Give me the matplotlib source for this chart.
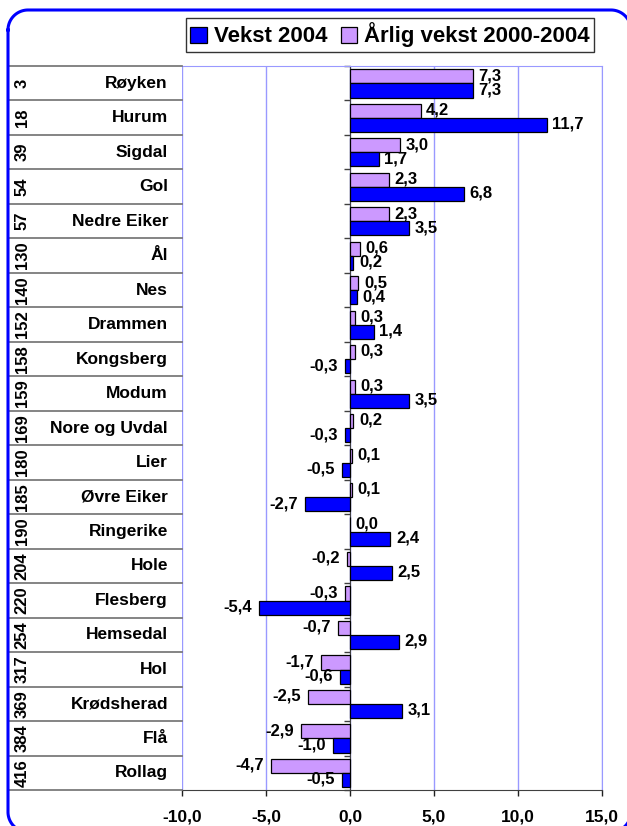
import matplotlib
matplotlib.use("Agg")
import numpy as np
import matplotlib.pyplot as plt
from matplotlib.patches import Patch
from matplotlib.lines import Line2D
from matplotlib.transforms import IdentityTransform, blended_transform_factory

plt.rcParams['font.family'] = ['Liberation Sans', 'DejaVu Sans']
plt.rcParams['font.weight'] = 'bold'
plt.rcParams['path.simplify'] = False

# Kommuner, rangering og vekst (prosent)
rang = [3, 18, 39, 54, 57, 130, 140, 152, 158, 159, 169, 180, 185, 190, 204,
        220, 254, 317, 369, 384, 416]
kommuner = ["Røyken", "Hurum", "Sigdal", "Gol", "Nedre Eiker", "Ål", "Nes",
            "Drammen", "Kongsberg", "Modum", "Nore og Uvdal", "Lier",
            "Øvre Eiker", "Ringerike", "Hole", "Flesberg", "Hemsedal", "Hol",
            "Krødsherad", "Flå", "Rollag"]
vekst_2004 = [7.3, 11.7, 1.7, 6.8, 3.5, 0.2, 0.4, 1.4, -0.3, 3.5, -0.3, -0.5,
              -2.7, 2.4, 2.5, -5.4, 2.9, -0.6, 3.1, -1.0, -0.5]
arlig_vekst = [7.3, 4.2, 3.0, 2.3, 2.3, 0.6, 0.5, 0.3, 0.3, 0.3, 0.2, 0.1,
               0.1, 0.0, -0.2, -0.3, -0.7, -1.7, -2.5, -2.9, -4.7]
xticks = [-10, -5, 0, 5, 10, 15]

BLA = "#0000FF"
LILLA = "#CC99FF"
GRID = "#9999FF"

W, H = 627, 826
fig = plt.figure(figsize=(W / 100, H / 100), dpi=100)
ax = fig.add_axes([182 / W, (H - 790) / H, (602 - 182) / W, (790 - 66) / H])

n = len(kommuner)
ypos = list(range(n))
bh = 0.41
ax.barh([y - 0.2 for y in ypos], arlig_vekst, height=bh, color=LILLA,
        edgecolor="black", linewidth=0.9, zorder=3)
ax.barh([y + 0.21 for y in ypos], vekst_2004, height=bh, color=BLA,
        edgecolor="black", linewidth=0.9, zorder=3)

def fmt(v):
    return ("%.1f" % v).replace(".", ",")

for y, a, v in zip(ypos, arlig_vekst, vekst_2004):
    for val, yy in ((a, y - 0.22), (v, y + 0.19)):
        neg = val < 0
        ax.annotate(fmt(val), (val, yy), xytext=(-5 if neg else 4, 0),
                    textcoords="offset points", ha="right" if neg else "left",
                    va="center", fontsize=12, fontweight="bold", zorder=4)

ax.set_xlim(-10, 15)
ax.set_ylim(n - 0.5, -0.5)
ax.set_xticks(xticks)
ax.set_xticklabels([fmt(t) for t in xticks], fontsize=12.5, fontweight="bold")
ax.tick_params(axis="x", length=4, width=1, color="#202020", pad=10)
ax.grid(axis="x", color=GRID, linewidth=1)
ax.set_axisbelow(True)

ax.spines["left"].set_position(("data", 0))
ax.spines["left"].set_color("#404040")
ax.spines["left"].set_zorder(2.5)
ax.set_yticks([k - 0.5 for k in range(n + 1)])
ax.set_yticklabels([])
ax.tick_params(axis="y", length=4, width=1, color="#404040")
ax.spines["bottom"].set_color("#404040")
ax.spines["top"].set_color(GRID)
ax.spines["right"].set_color(GRID)

# tabell til venstre
tr = blended_transform_factory(fig.transFigure, ax.transData)
for k in range(n + 1):
    fig.add_artist(Line2D([8 / W, 182 / W], [k - 0.5, k - 0.5], transform=tr,
                          color="#707070", linewidth=1.2))
for y, r, navn in zip(ypos, rang, kommuner):
    fig.text(22 / W, y, str(r), transform=tr, rotation=90, ha="center",
             va="center", fontsize=12, fontweight="bold")
    fig.text(168 / W, y, navn, transform=tr, ha="right", va="center",
             fontsize=12.5, fontweight="bold")

handles = [Patch(facecolor=BLA, edgecolor="black", linewidth=0.9),
           Patch(facecolor=LILLA, edgecolor="black", linewidth=0.9)]
leg = fig.legend(handles, ["Vekst 2004", "Årlig vekst 2000-2004"],
                 loc="center", bbox_to_anchor=((185 + 595) / 2 / W, 1 - 35 / H),
                 ncol=2, fontsize=16, frameon=True, fancybox=False,
                 handlelength=0.75, handleheight=0.75, handletextpad=0.3,
                 columnspacing=0.6, borderpad=0.22, borderaxespad=0)
leg.get_frame().set_edgecolor("black")
leg.get_frame().set_linewidth(1)
for t in leg.get_texts():
    t.set_fontweight("bold")

# blå avrundet ramme, tegnet i piksler (y fra toppen), delvis utenfor bildet
def bue(cx, cy, r, a0, a1):
    t = np.radians(np.linspace(a0, a1, 30))
    return cx + r * np.cos(t), cy - r * np.sin(t)

L, T, R, B, rad = 8, 10, 631, 832, 20
segs = [bue(L + rad, T + rad, rad, 180, 90),
        bue(R - rad, T + rad, rad, 90, 0),
        bue(R - rad, B - rad, rad, 0, -90),
        bue(L + rad, B - rad, rad, -90, -180)]
rx = np.concatenate([s[0] for s in segs] + [segs[0][0][:1]])
ry = np.concatenate([s[1] for s in segs] + [segs[0][1][:1]])
fig.add_artist(Line2D(rx, H - ry, transform=IdentityTransform(), color=BLA,
                      linewidth=2.2, solid_joinstyle="round"))

fig.savefig("out.png", dpi=100)
